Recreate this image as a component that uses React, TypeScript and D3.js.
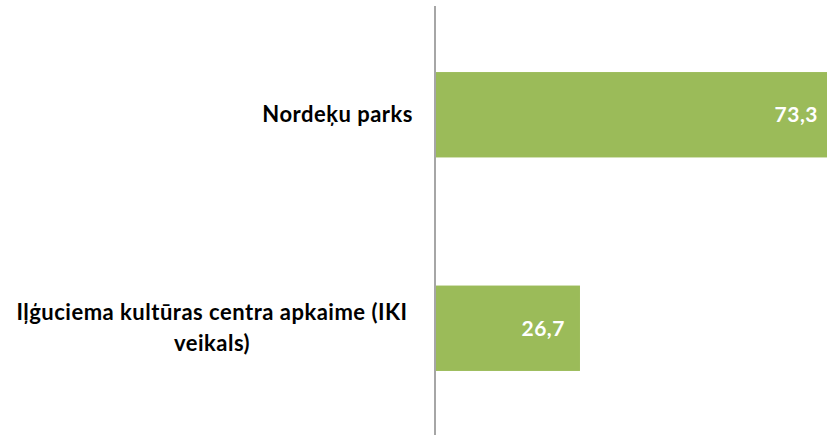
import { useRef, useEffect } from "react";
import * as d3 from "d3";

// Chart data
const categories = ["Nordeķu parks", "Iļģuciema kultūras centra apkaime (IKI veikals)"];
const labelLines = [["Nordeķu parks"], ["Iļģuciema kultūras centra apkaime (IKI", "veikals)"]];
const values = [73.3, 26.7];

const BAR_COLOR = "#9bbb59";
const AXIS_COLOR = "#a6a6a6";
const FONT = "Lato, 'Open Sans', sans-serif";

export default function App() {
  const svgRef = useRef<SVGSVGElement>(null);

  useEffect(() => {
    document.body.style.margin = "0";
    if (!svgRef.current) return;

    const width = 827;
    const height = 435;
    // the longest bar runs a little past the right edge (cropped chart)
    const plotRight = 833;
    const margin = { top: 8, bottom: 0, left: 435 };

    const svg = d3.select(svgRef.current);
    svg.selectAll("*").remove();
    svg.attr("width", width).attr("height", height);

    const x = d3.scaleLinear()
      .domain([0, d3.max(values) as number])
      .range([margin.left, plotRight]);

    const y = d3.scaleBand<number>()
      .domain(categories.map((_, i) => i))
      .range([margin.top, height - margin.bottom])
      .paddingInner(0.6)
      .paddingOuter(0.3);

    // Bars
    svg.selectAll("rect.bar")
      .data(values)
      .join("rect")
      .attr("class", "bar")
      .attr("x", x(0))
      .attr("y", (_, i) => y(i) || 0)
      .attr("width", (d) => x(d) - x(0))
      .attr("height", y.bandwidth())
      .attr("fill", BAR_COLOR);

    // Vertical axis line
    svg.append("line")
      .attr("x1", x(0))
      .attr("x2", x(0))
      .attr("y1", 6)
      .attr("y2", height)
      .attr("stroke", AXIS_COLOR)
      .attr("stroke-width", 2);

    // Value labels (inside end)
    svg.selectAll("text.value")
      .data(values)
      .join("text")
      .attr("class", "value")
      .attr("x", (d) => x(d) - 15)
      .attr("y", (_, i) => (y(i) || 0) + y.bandwidth() / 2)
      .attr("dy", "0.35em")
      .attr("text-anchor", "end")
      .attr("fill", "#ffffff")
      .attr("font-size", "21px")
      .attr("font-weight", "700")
      .attr("font-family", FONT)
      .attr("letter-spacing", "0.5px")
      .text((d) => d.toFixed(1).replace(".", ","));

    // Category labels
    const lineH = 31;
    labelLines.forEach((lines, i) => {
      const cy = (y(i) || 0) + y.bandwidth() / 2;
      const multi = lines.length > 1;
      const t = svg.append("text")
        .attr("fill", "#000000")
        .attr("font-size", "22px")
        .attr("font-weight", "700")
        .attr("font-family", FONT)
        .attr("letter-spacing", "0.5px")
        .attr("text-anchor", multi ? "middle" : "end");
      lines.forEach((line, j) => {
        t.append("tspan")
          .attr("x", multi ? 212 : 413)
          .attr("y", cy + (j - (lines.length - 1) / 2) * lineH)
          .attr("dy", "0.35em")
          .text(line);
      });
    });
  }, []);

  return <svg ref={svgRef} style={{ display: "block" }} />;
}
